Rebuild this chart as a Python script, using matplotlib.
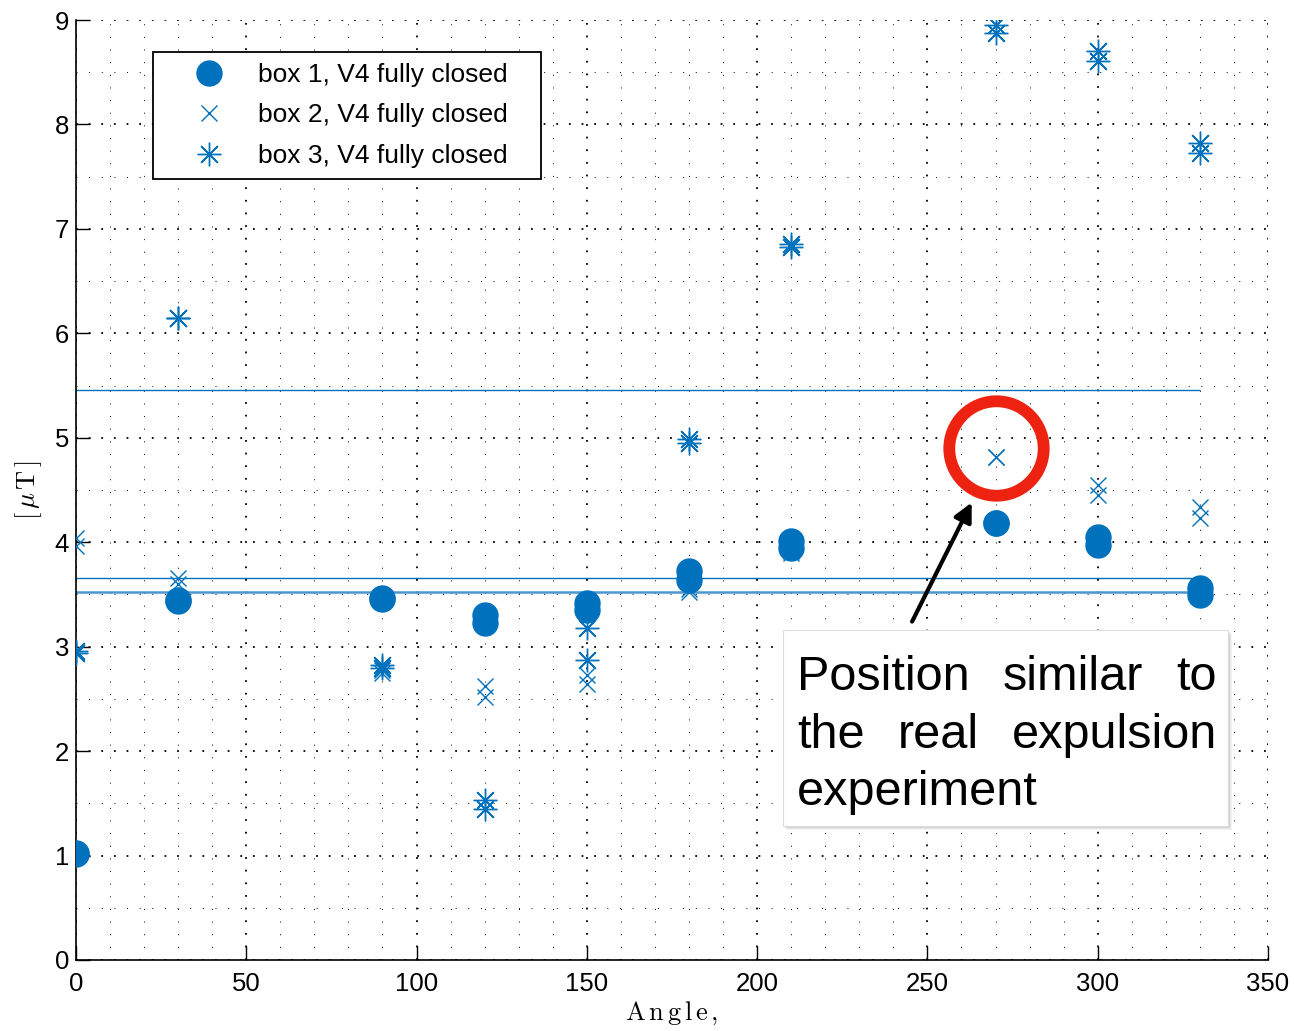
import matplotlib
matplotlib.use("Agg")
import matplotlib.pyplot as plt
from matplotlib.patches import Rectangle
from matplotlib.ticker import MultipleLocator

plt.rcParams['font.family'] = ['Liberation Sans', 'DejaVu Sans']
plt.rcParams['mathtext.fontset'] = 'cm'

# measured field, two repeats per angle
angles = [0, 0, 30, 30, 90, 90, 120, 120, 150, 150,
          180, 180, 210, 210, 270, 270, 300, 300, 330, 330]
box1 = [1.02, 1.01, 3.45, 3.44, 3.47, 3.46, 3.30, 3.23, 3.42, 3.35,
        3.72, 3.64, 4.01, 3.94, 4.18, 4.18, 4.05, 3.97, 3.56, 3.49]
box2 = [4.04, 3.96, 3.66, 3.60, 2.78, 2.75, 2.62, 2.52, 2.73, 2.64,
        3.55, 3.52, 3.92, 3.90, 4.82, 4.82, 4.55, 4.45, 4.34, 4.23]
box3 = [2.96, 2.94, 6.15, 6.15, 2.82, 2.80, 1.53, 1.45, 3.18, 2.87,
        4.99, 4.95, 6.86, 6.83, 8.95, 8.88, 8.70, 8.61, 7.82, 7.73]
labels = ['box 1, V4 fully closed', 'box 2, V4 fully closed', 'box 3, V4 fully closed']

mean_levels = [5.46, 3.66]
mean_level_low = 3.52
mean_xmax = 330

highlight = (270, 4.90)
arrow_tail = (245.5, 3.24)
arrow_head = (263.0, 4.38)
note_lines = [['Position', 'similar', 'to'], ['the', 'real', 'expulsion'], ['experiment']]

blue = '#0072BD'

fig = plt.figure(figsize=(12.94, 10.31), dpi=100)
ax = fig.add_axes([0.0587, 0.0689, 0.9212, 0.9117])

ax.plot(angles, box1, 'o', color=blue, markersize=18, label=labels[0], zorder=3)
ax.plot(angles, box2, 'x', color=blue, markersize=12, markeredgewidth=1.0, label=labels[1], zorder=3)
ax.plot(angles, box3, marker=(8, 2, 0), linestyle='none', color=blue, markersize=17,
        markeredgewidth=1.0, label=labels[2], zorder=3)

ax.hlines(mean_levels, 0, mean_xmax, color=blue, linewidth=1.0, zorder=2)
ax.hlines(mean_level_low, 0, mean_xmax, color='#4a97d2', linewidth=1.8, zorder=2)

ax.set_xlim(0, 350)
ax.set_ylim(0, 9)
ax.xaxis.set_major_locator(MultipleLocator(50))
ax.xaxis.set_minor_locator(MultipleLocator(10))
ax.yaxis.set_major_locator(MultipleLocator(1))
ax.yaxis.set_minor_locator(MultipleLocator(0.5))
ax.grid(True, which='major', color='black', linewidth=1.3, linestyle=(0, (1, 6)))
ax.grid(True, which='minor', color='black', linewidth=0.7, linestyle=(0, (1, 12)))
ax.set_axisbelow(True)
ax.tick_params(which='major', direction='in', length=10, width=1, labelsize=18.5)
ax.tick_params(axis='x', which='major', pad=9)
ax.tick_params(axis='y', which='major', pad=5)
ax.tick_params(which='minor', direction='in', length=0)
for s in ['top', 'right']:
    ax.spines[s].set_visible(False)
for s in ['left', 'bottom']:
    ax.spines[s].set_linewidth(1.2)

ax.set_xlabel(r'$\mathrm{A\,n\,g\,l\,e\,,}$', fontsize=19, labelpad=2)
ax.set_ylabel(r'$[\,\mu\,\mathrm{T}\,]$', fontsize=19, labelpad=8)

leg = ax.legend(loc='upper left', bbox_to_anchor=(0.0646, 0.966), fontsize=19,
                labels=[l + '   ' for l in labels],
                fancybox=False, framealpha=1, edgecolor='black', borderpad=0.42,
                handlelength=3.4, handletextpad=0.15, labelspacing=0.62, borderaxespad=0)
leg.get_frame().set_linewidth(1.3)

# red circle around the highlighted point
ax.plot(*highlight, 'o', markersize=68, markerfacecolor='none',
        markeredgecolor='#EE2211', markeredgewidth=8.5, zorder=4)

ax.annotate('', xy=arrow_head, xytext=arrow_tail,
            arrowprops=dict(arrowstyle='-|>', color='black', lw=3, mutation_scale=28,
                            shrinkA=0, shrinkB=0), zorder=5)

# note box with shadow (figure coords)
bx, by, bw, bh = 0.6051, 0.1988, 0.3439, 0.1901
for k, a in enumerate([0.06, 0.08, 0.11, 0.15]):
    off = (4 - k) * 0.0013
    fig.patches.append(Rectangle((bx + off * 0.6, by - off * 0.8), bw, bh, transform=fig.transFigure,
                                 facecolor='#444444', edgecolor='none', alpha=a, zorder=5))
fig.patches.append(Rectangle((bx, by), bw, bh, transform=fig.transFigure,
                             facecolor='white', edgecolor='#dddddd', linewidth=0.8, zorder=6))

left_px, right_px = 797, 1217
baselines = [690, 748, 805]
W, H = 1294, 1031
renderer = fig.canvas.get_renderer()
for words, base in zip(note_lines, baselines):
    yf = 1 - base / H
    texts = [fig.text(0, yf, w, fontsize=35, va='baseline', ha='left', zorder=7) for w in words]
    widths = [t.get_window_extent(renderer).width for t in texts]
    if len(words) == 1:
        texts[0].set_x(left_px / W)
        continue
    gap = (right_px - left_px - sum(widths)) / (len(words) - 1)
    x = left_px
    for t, w in zip(texts, widths):
        t.set_x(x / W)
        x += w + gap

fig.savefig('out.png', dpi=100)
